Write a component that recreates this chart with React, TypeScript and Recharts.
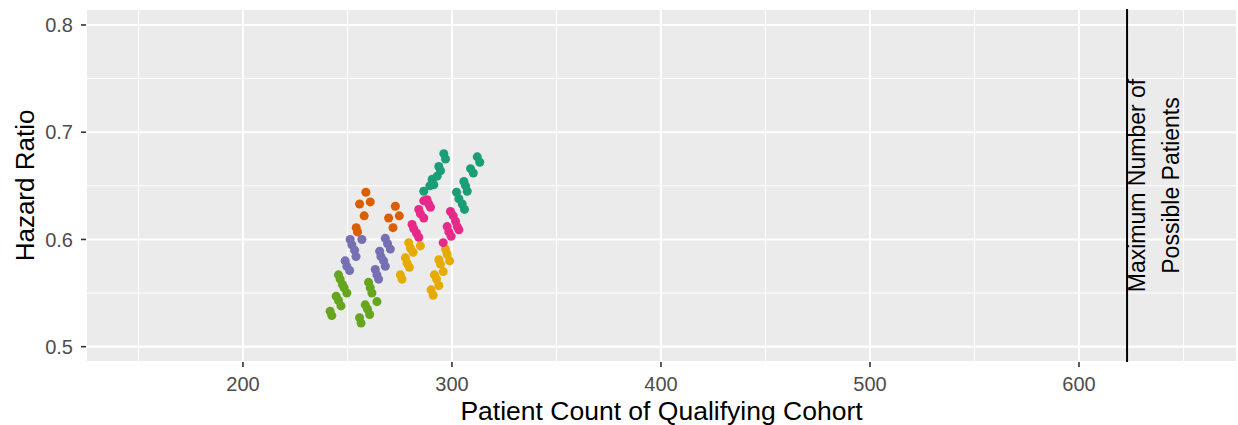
import React from "react";
import {
  CartesianGrid,
  ReferenceLine,
  Scatter,
  ScatterChart,
  XAxis,
  YAxis,
  ZAxis,
} from "recharts";

type Pt = { x: number; y: number };
const pts = (rows: number[][]): Pt[] => rows.map(([x, y]) => ({ x, y }));

const orange = pts([
  [258.8, 0.644], [255.8, 0.633], [260.9, 0.635], [258.0, 0.622], [254.2, 0.611],
  [254.8, 0.607], [272.9, 0.631], [269.7, 0.62], [274.8, 0.622], [271.8, 0.611],
]);

const purple = pts([
  [251.3, 0.6], [252.1, 0.595], [253.4, 0.59], [254.1, 0.584], [248.9, 0.58],
  [249.7, 0.575], [251.0, 0.571], [256.9, 0.6], [268.1, 0.601], [269.2, 0.596],
  [270.5, 0.591], [265.4, 0.589], [266.0, 0.584], [267.3, 0.58], [268.1, 0.575],
  [263.3, 0.572], [264.1, 0.567], [264.9, 0.563],
]);

const green = pts([
  [245.7, 0.567], [246.5, 0.563], [247.6, 0.558], [248.4, 0.555], [249.7, 0.55],
  [244.6, 0.547], [245.7, 0.543], [246.9, 0.538], [241.7, 0.533], [242.5, 0.529],
  [260.1, 0.56], [260.9, 0.555], [261.7, 0.55], [264.1, 0.542], [258.5, 0.539],
  [259.6, 0.535], [260.6, 0.53], [255.8, 0.527], [256.5, 0.522],
]);

const yellow = pts([
  [279.3, 0.597], [280.1, 0.592], [281.4, 0.588], [284.9, 0.594], [277.7, 0.583],
  [278.5, 0.578], [279.6, 0.574], [275.3, 0.567], [276.1, 0.563], [296.9, 0.591],
  [297.7, 0.586], [298.9, 0.58], [293.7, 0.581], [294.5, 0.577], [295.8, 0.57],
  [291.6, 0.567], [292.6, 0.563], [293.7, 0.557], [290.0, 0.553], [291.0, 0.548],
]);

const pink = pts([
  [286.5, 0.636], [288.1, 0.637], [288.9, 0.633], [289.7, 0.63], [284.1, 0.628],
  [284.9, 0.624], [286.5, 0.62], [280.9, 0.614], [281.7, 0.61], [283.0, 0.606],
  [284.1, 0.602], [299.3, 0.626], [300.6, 0.622], [301.7, 0.617], [302.5, 0.612],
  [297.7, 0.612], [298.5, 0.607], [299.6, 0.603], [303.3, 0.609], [295.8, 0.597],
]);

const teal = pts([
  [296.1, 0.68], [296.9, 0.675], [293.7, 0.668], [294.5, 0.664], [292.9, 0.659],
  [290.5, 0.656], [291.3, 0.651], [289.4, 0.65], [286.5, 0.645], [312.1, 0.677],
  [313.3, 0.672], [308.9, 0.666], [310.2, 0.662], [305.7, 0.654], [306.5, 0.65],
  [307.3, 0.645], [302.2, 0.644], [303.3, 0.638], [304.9, 0.633], [306.0, 0.628],
]);

const series = [
  { name: "teal", data: teal, color: "#1B9E77" },
  { name: "orange", data: orange, color: "#D95F02" },
  { name: "purple", data: purple, color: "#7570B3" },
  { name: "yellow", data: yellow, color: "#E6AB02" },
  { name: "pink", data: pink, color: "#E7298A" },
  { name: "green", data: green, color: "#66A61E" },
];

const xTicks = [200, 300, 400, 500, 600];
const yTicks = [0.5, 0.6, 0.7, 0.8];
const xMinor = [150, 250, 350, 450, 550, 650];
const yMinor = [0.55, 0.65, 0.75];
const maxPatients = 623;
const annotationLines = ["Maximum Number of", "Possible Patients"];

const FONT = "'Liberation Sans', Arial, sans-serif";
const tickStyle = { fontSize: 20, fill: "#4D4D4D", fontFamily: FONT };

export default function App() {
  return (
    <div style={{ position: "absolute", left: 0, top: 0, width: 1238, height: 425, background: "#fff" }}>
      <ScatterChart width={1238} height={425} margin={{ top: 9, right: 1, bottom: 0, left: 0 }}>
        <CartesianGrid fill="#EBEBEB" stroke="#FFFFFF" strokeWidth={2.1} />
        {xMinor.map((v) => (
          <ReferenceLine key={`xm-${v}`} x={v} stroke="#FFFFFF" strokeWidth={1} />
        ))}
        {yMinor.map((v) => (
          <ReferenceLine key={`ym-${v}`} y={v} stroke="#FFFFFF" strokeWidth={1} />
        ))}
        <XAxis
          type="number"
          dataKey="x"
          domain={[124.9, 675.6]}
          ticks={xTicks}
          allowDataOverflow
          height={63}
          axisLine={false}
          tickLine={{ stroke: "#333333", strokeWidth: 1.6 }}
          tickSize={5}
          tickMargin={10}
          tick={tickStyle}
          label={{
            value: "Patient Count of Qualifying Cohort",
            position: "insideBottom",
            offset: 5,
            style: { fontSize: 26.5, fill: "#000", fontFamily: FONT },
          }}
        />
        <YAxis
          type="number"
          dataKey="y"
          domain={[0.4857, 0.8149]}
          ticks={yTicks}
          allowDataOverflow
          width={86}
          axisLine={false}
          tickLine={{ stroke: "#333333", strokeWidth: 1.6 }}
          tickSize={5}
          tickMargin={8}
          tick={tickStyle}
          tickFormatter={(v: number) => v.toFixed(1)}
          label={{
            value: "Hazard Ratio",
            content: (props: any) => {
              const vb = props.viewBox || {};
              const cy = (vb.y ?? 9) + (vb.height ?? 353) / 2;
              return (
                <text
                  x={34}
                  y={cy}
                  transform={`rotate(-90, 34, ${cy})`}
                  textAnchor="middle"
                  style={{ fontSize: 26, fill: "#000", fontFamily: FONT }}
                >
                  Hazard Ratio
                </text>
              );
            },
          }}
        />
        <ZAxis range={[68, 68]} />
        {series.map((s) => (
          <Scatter
            key={s.name}
            name={s.name}
            data={s.data}
            fill={s.color}
            isAnimationActive={false}
          />
        ))}
        <ReferenceLine
          x={maxPatients}
          stroke="#000000"
          strokeWidth={2}
          label={{
            content: (props: any) => {
              const vb = props.viewBox || {};
              const lx = vb.x ?? 1127;
              const cy = (vb.y ?? 9) + (vb.height ?? 353) / 2;
              return (
                <g>
                  {annotationLines.map((t, i) => {
                    const bx = lx + 18 + i * 34;
                    return (
                      <text
                        key={t}
                        x={bx}
                        y={cy}
                        transform={`rotate(-90, ${bx}, ${cy})`}
                        textAnchor="middle"
                        style={{ fontSize: 23, fill: "#000", fontFamily: FONT }}
                      >
                        {t}
                      </text>
                    );
                  })}
                </g>
              );
            },
          }}
        />
      </ScatterChart>
    </div>
  );
}
